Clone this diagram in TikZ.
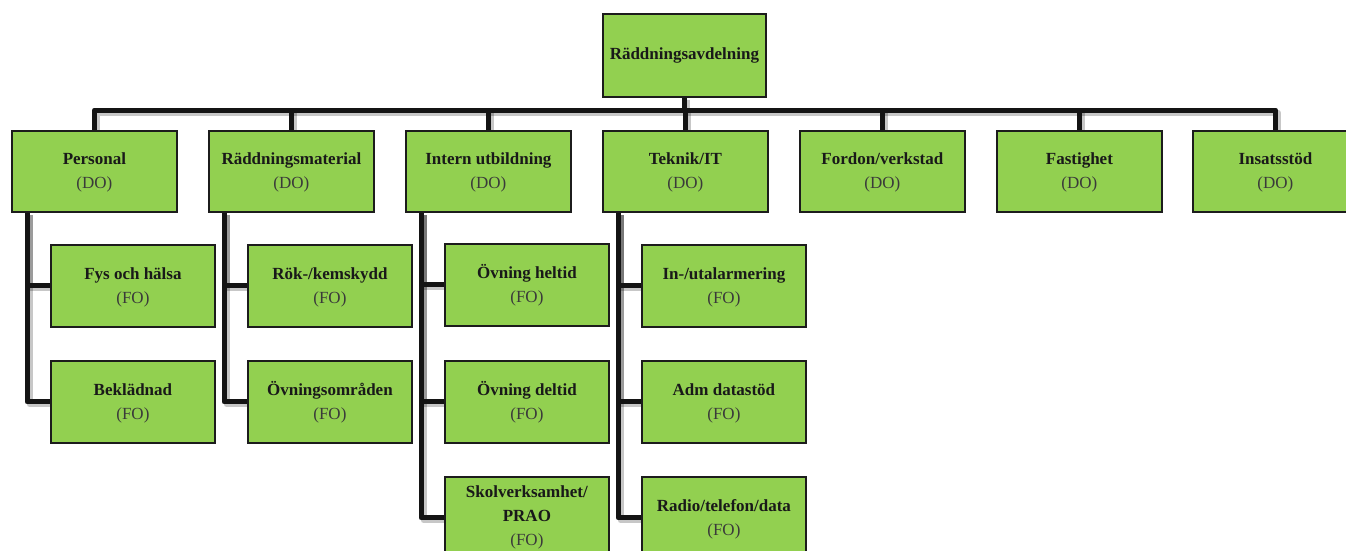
\documentclass[tikz,border=0pt]{standalone}
\usepackage{fontspec}
\setmainfont{Liberation Serif}
\definecolor{boxgreen}{HTML}{92D050}
\definecolor{boxline}{HTML}{1C1C1C}
\definecolor{subtxt}{HTML}{3A3A3A}
\pgfdeclarelayer{bg}
\pgfsetlayers{bg,main}
\newcommand\boxlab[2]{\textbf{\vphantom{Ö}#1}\\\textcolor{subtxt}{(#2)}}
\begin{document}
\begin{tikzpicture}[x=1pt,y=-1pt,
  box/.style={draw=boxline, line width=1.8pt, fill=boxgreen, minimum width=165pt, minimum height=81pt,
    anchor=north west, align=center, inner sep=2pt, text=black!90,
    font=\fontsize{17}{24}\selectfont},
  sub/.style={box, minimum width=164pt, minimum height=82pt},
  conn/.style={line width=5pt, draw=black!92, line join=round},
  shad/.style={line width=6pt, draw=black, opacity=0.22, line join=round,
    transform canvas={shift={(2.5pt,-2.5pt)}}},
]
\useasboundingbox (0,0) rectangle (1346,551);
\coordinate (bus) at (0,110);

\node[box, minimum width=163pt, minimum height=83pt] (top) at (602,13) {\textbf{Räddningsavdelning}};

\node[box] (p1) at (11,130)   {\boxlab{Personal}{DO}};
\node[box] (p2) at (208,130)  {\boxlab{Räddningsmaterial}{DO}};
\node[box] (p3) at (405,130)  {\boxlab{Intern utbildning}{DO}};
\node[box] (p4) at (602,130)  {\boxlab{Teknik/IT}{DO}};
\node[box] (p5) at (799,130)  {\boxlab{Fordon/verkstad}{DO}};
\node[box] (p6) at (996,130)  {\boxlab{Fastighet}{DO}};
\node[box] (p7) at (1192,130) {\boxlab{Insatsstöd}{DO}};

\node[sub] (c11) at (50,244)  {\boxlab{Fys och hälsa}{FO}};
\node[sub] (c12) at (50,360)  {\boxlab{Beklädnad}{FO}};
\node[sub] (c21) at (247,244) {\boxlab{Rök-/kemskydd}{FO}};
\node[sub] (c22) at (247,360) {\boxlab{Övningsområden}{FO}};
\node[sub] (c31) at (444,243) {\boxlab{Övning heltid}{FO}};
\node[sub] (c32) at (444,360) {\boxlab{Övning deltid}{FO}};
\node[sub] (c33) at (444,476) {\textbf{Skolverksamhet/}\\\textbf{PRAO}\\\textcolor{subtxt}{(FO)}};
\node[sub] (c41) at (641,244) {\boxlab{In-/utalarmering}{FO}};
\node[sub] (c42) at (641,360) {\boxlab{Adm datastöd}{FO}};
\node[sub] (c43) at (641,476) {\boxlab{Radio/telefon/data}{FO}};

\begin{pgfonlayer}{bg}
\fill[white] (0,0) rectangle (1346,551);
\foreach \s in {shad,conn}{
  \draw[\s] (top.south) -- (top.south |- bus);
  \draw[\s] (p1.north) -- (p1.north |- bus) -- (p7.north |- bus) -- (p7.north);
  \foreach \p in {p2,p3,p4,p5,p6}{
    \draw[\s] (\p.north |- bus) -- (\p.north);
  }
  \draw[\s] ([xshift=16pt]p1.south west) |- (c11.west);
  \draw[\s] ([xshift=16pt]p1.south west) |- (c12.west);
  \draw[\s] ([xshift=16pt]p2.south west) |- (c21.west);
  \draw[\s] ([xshift=16pt]p2.south west) |- (c22.west);
  \draw[\s] ([xshift=16pt]p3.south west) |- (c31.west);
  \draw[\s] ([xshift=16pt]p3.south west) |- (c32.west);
  \draw[\s] ([xshift=16pt]p3.south west) |- (c33.west);
  \draw[\s] ([xshift=16pt]p4.south west) |- (c41.west);
  \draw[\s] ([xshift=16pt]p4.south west) |- (c42.west);
  \draw[\s] ([xshift=16pt]p4.south west) |- (c43.west);
}
\end{pgfonlayer}
\end{tikzpicture}
\end{document}
